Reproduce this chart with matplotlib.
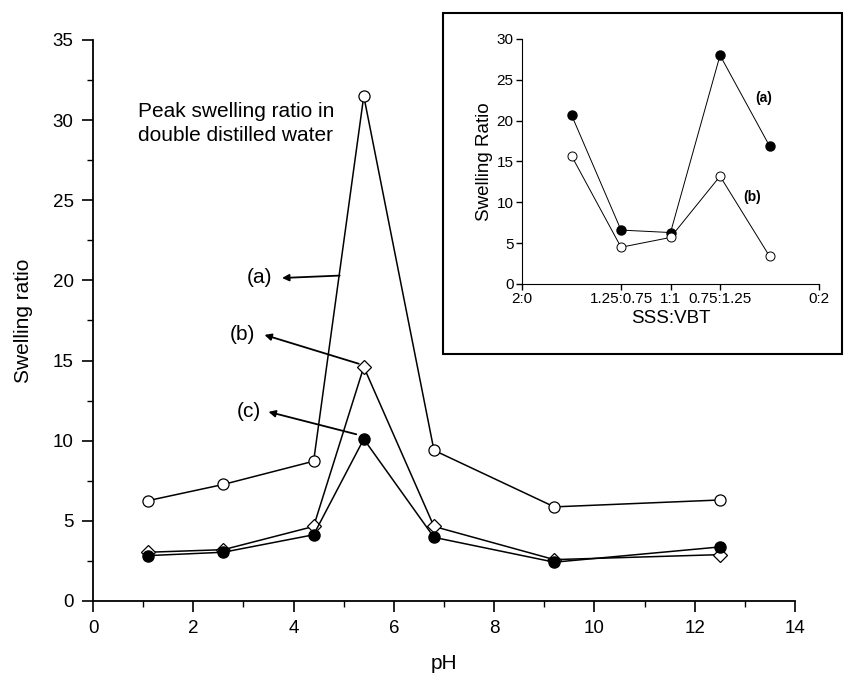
import matplotlib
matplotlib.use("Agg")
import matplotlib.pyplot as plt
from matplotlib.ticker import MultipleLocator, FixedLocator
from matplotlib.patches import Rectangle

plt.rcParams['font.family'] = ['Liberation Sans', 'DejaVu Sans']

# ---- main data ----
ph = [1.1, 2.6, 4.4, 5.4, 6.8, 9.2, 12.5]
ratio_a = [6.26, 7.27, 8.72, 31.5, 9.40, 5.87, 6.30]
ratio_b = [3.04, 3.20, 4.65, 14.6, 4.65, 2.58, 2.89]
ratio_c = [2.83, 3.04, 4.13, 10.10, 3.97, 2.42, 3.37]

# ---- inset data ----
ratio_labels = ["2:0", "1.25:0.75", "1:1", "0.75:1.25", "0:2"]
ratio_tick_pos = [0, 2, 3, 4, 6]
inset_x = [1, 2, 3, 4, 5]
inset_a = [20.7, 6.6, 6.3, 28.0, 16.9]
inset_b = [15.7, 4.5, 5.7, 13.2, 3.4]

fig = plt.figure(figsize=(8.47, 6.83), dpi=100)
ax = fig.add_axes([0.1098, 0.1201, 0.8288, 0.8214])

ax.plot(ph, ratio_a, color='black', lw=1.1, marker='o', ms=8,
        mfc='white', mec='black', mew=0.9, zorder=3)
ax.plot(ph, ratio_b, color='black', lw=1.1, marker='D', ms=7,
        mfc='white', mec='black', mew=0.9, zorder=3)
ax.plot(ph, ratio_c, color='black', lw=1.1, marker='o', ms=8,
        mfc='black', mec='black', zorder=4)

ax.set_xlim(0, 14)
ax.set_ylim(0, 35)
ax.xaxis.set_major_locator(MultipleLocator(2))
ax.xaxis.set_minor_locator(MultipleLocator(1))
ax.yaxis.set_major_locator(MultipleLocator(5))
ax.yaxis.set_minor_locator(MultipleLocator(2.5))
for s in ['top', 'right']:
    ax.spines[s].set_visible(False)
for s in ['left', 'bottom']:
    ax.spines[s].set_linewidth(1.3)
ax.tick_params(which='major', direction='out', length=8, width=1.2,
               labelsize=13.5, pad=6)
ax.tick_params(which='minor', direction='out', length=4.5, width=1.0)
ax.set_xlabel('pH', fontsize=15, labelpad=12)
ax.set_ylabel('Swelling ratio', fontsize=15, labelpad=14)

ax.text(0.9, 29.8, 'Peak swelling ratio in\ndouble distilled water',
        fontsize=15, ha='left', va='center', linespacing=1.3)

arrow = dict(arrowstyle='-|>', color='black', lw=1.3,
             mutation_scale=10, shrinkA=0, shrinkB=0)
ax.annotate('', xy=(3.77, 20.15), xytext=(4.92, 20.3), arrowprops=arrow)
ax.text(3.32, 20.15, '(a)', fontsize=15, ha='center', va='center')
ax.annotate('', xy=(3.42, 16.6), xytext=(5.3, 14.8), arrowprops=arrow)
ax.text(2.98, 16.6, '(b)', fontsize=15, ha='center', va='center')
ax.annotate('', xy=(3.5, 11.8), xytext=(5.25, 10.4), arrowprops=arrow)
ax.text(3.1, 11.85, '(c)', fontsize=15, ha='center', va='center')

# ---- inset frame ----
frame = Rectangle((443/847, 1 - 354/683), (842 - 443)/847, (354 - 13)/683,
                  transform=fig.transFigure, fill=True, facecolor='white',
                  edgecolor='black', lw=1.5, zorder=5)
fig.patches.append(frame)

ins = fig.add_axes([0.6163, 0.5842, 0.3507, 0.3587], zorder=6)
ins.patch.set_alpha(0)
ins.plot(inset_x, inset_a, color='black', lw=0.7, marker='o', ms=6.5,
         mfc='black', mec='black', zorder=3)
ins.plot(inset_x, inset_b, color='black', lw=0.7, marker='o', ms=6.5,
         mfc='white', mec='black', mew=0.7, zorder=3)
ins.set_xlim(0, 6)
ins.set_ylim(0, 30)
ins.xaxis.set_major_locator(FixedLocator(ratio_tick_pos))
ins.set_xticklabels(ratio_labels)
ins.yaxis.set_major_locator(MultipleLocator(5))
for s in ['top', 'right']:
    ins.spines[s].set_visible(False)
ins.tick_params(direction='out', length=4, width=1.0, labelsize=11, pad=2)
ins.set_xlabel('SSS:VBT', fontsize=13.5, labelpad=3)
ins.set_ylabel('Swelling Ratio', fontsize=13.5, labelpad=3)
ins.text(4.88, 22.8, '(a)', fontsize=10, fontweight='bold', ha='center', va='center')
ins.text(4.65, 10.6, '(b)', fontsize=10, fontweight='bold', ha='center', va='center')

fig.savefig('out.png', dpi=100)
